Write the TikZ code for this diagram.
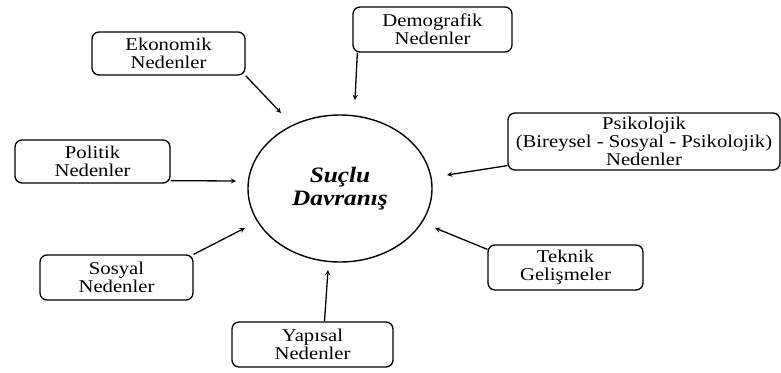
\documentclass[tikz,border=0pt]{standalone}
\usepackage{fontspec}
\setmainfont{Liberation Serif}[FakeStretch=1.15]
\usepackage{tikz}
\usetikzlibrary{positioning,shapes,arrows}

\begin{document}
\begin{tikzpicture}[x=1pt,y=-1pt]
\tikzstyle{every node}+=[inner sep=0pt]
\tikzstyle{cause}=[draw=black,line width=1.3pt,rounded corners=7pt,align=center,font=\fontsize{18}{18}\selectfont]
\tikzstyle{link}=[draw=black,line width=1.3pt,-stealth]
\useasboundingbox (0,0) rectangle (781,372);
% centre
\node [draw,ellipse,line width=1.4pt,minimum width=184,minimum height=147,align=center,font=\fontsize{22}{23}\selectfont\bfseries\itshape] (crime) at (340,188.5) {Suçlu\\Davranış};
% causes
\node [cause,minimum width=153,minimum height=43] (eko) at (168.5,53.5) {Ekonomik\\Nedenler};
\node [cause,minimum width=159,minimum height=45] (demo) at (432.5,29.5) {Demografik\\Nedenler};
\node [cause,minimum width=272,minimum height=57] (psi) at (644,141.5) {Psikolojik\\(Bireysel - Sosyal - Psikolojik)\\Nedenler};
\node [cause,minimum width=155,minimum height=43] (poli) at (92.5,161.5) {Politik\\Nedenler};
\node [cause,minimum width=153,minimum height=45] (sos) at (116.5,277.5) {Sosyal\\Nedenler};
\node [cause,minimum width=161,minimum height=45] (yap) at (312.5,344.5) {Yapısal\\Nedenler};
\node [cause,minimum width=155,minimum height=45] (tek) at (565.5,267.5) {Teknik\\Gelişmeler};
% arrow tips
\coordinate (ekotip) at (281,113);
\coordinate (demotip) at (355,100);
\coordinate (psitip) at (447,175);
\coordinate (politip) at (236,181);
\coordinate (sostip) at (245,228);
\coordinate (yaptip) at (328,270);
\coordinate (tektip) at (435,228);
\draw [link] (eko.south east) -- (ekotip);
\draw [link] ([xshift=5pt]demo.south west) -- (demotip);
\draw [link] ([yshift=5pt]psi.south west) -- (psitip);
\draw [link] ([yshift=3pt]poli.south east) -- (politip);
\draw [link] (sos.north east) -- (sostip);
\draw [link] ([xshift=12pt]yap.north) -- (yaptip);
\draw [link] ([yshift=-5pt]tek.north west) -- (tektip);
\end{tikzpicture}
\end{document}
